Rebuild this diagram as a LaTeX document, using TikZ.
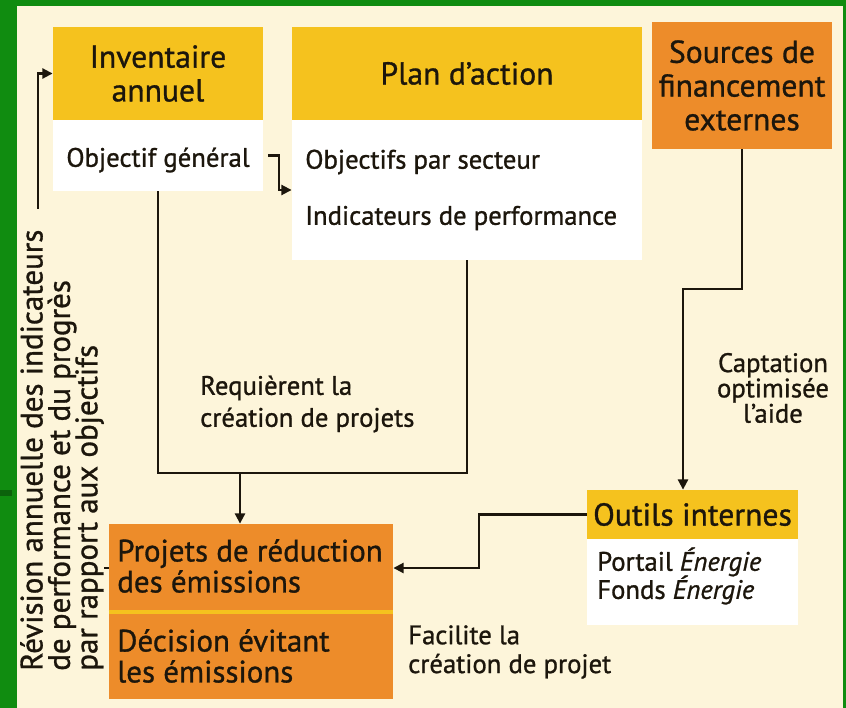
\documentclass[tikz,border=0pt]{standalone}
\usepackage{fontspec}
\setmainfont{PT Sans}[UprightFeatures={FakeBold=1.0},ItalicFeatures={FakeBold=1.0}]
\usetikzlibrary{arrows.meta}

\definecolor{frame}{RGB}{16,140,16}
\definecolor{cream}{RGB}{253,245,218}
\definecolor{yellowhd}{RGB}{245,194,30}
\definecolor{orangebx}{RGB}{237,140,42}
\definecolor{ink}{RGB}{28,22,12}

\tikzset{
  head/.style={fill=yellowhd,inner sep=0pt,align=center,text=ink,font=\fontsize{22.5}{24}\selectfont},
  body/.style={fill=white,inner sep=0pt},
  orbox/.style={fill=orangebx,inner sep=0pt},
  txt/.style={font=\fontsize{19}{20}\selectfont,text=ink,inner sep=0pt},
  link/.style={line width=1.9pt,ink,-{Triangle[length=0.26cm,width=0.25cm]}},
  plain/.style={line width=1.9pt,ink}
}

\begin{document}
\begin{tikzpicture}[x=0.025cm,y=-0.025cm]
\lineskiplimit=-30pt
% frame and background
\fill[frame] (0,0) rectangle (846,708);
\fill[frame!70!black] (0,490) rectangle (12,496);
\fill[cream] (17,6) rectangle (843,708);
\useasboundingbox (0,0) rectangle (846,708);

% Inventaire annuel
\node[head,minimum width=5.25cm,minimum height=2.325cm] (invhead) at (158,73.5) {Inventaire\\annuel};
\node[body,minimum width=5.25cm,minimum height=1.775cm] (invbody) at (158,155.5) {};
\node[txt] (objgen) at (158,160) {Objectif général};

% Plan d'action
\node[head,minimum width=8.75cm,minimum height=2.325cm] (planhead) at (467,73.5) {Plan d'action};
\node[body,minimum width=8.75cm,minimum height=3.5cm] (planbody) at (467,190) {};
\node[txt,anchor=west] (objsect) at (305,162) {Objectifs par secteur};
\node[txt,anchor=west] (indperf) at (305,218) {Indicateurs de performance};

% Sources de financement externes
\node[head,fill=orangebx,minimum width=4.5cm,minimum height=3.175cm] (srchead) at (742,85.5) {Sources de\\financement\\externes};

% Outils internes
\node[head,minimum width=5.275cm,minimum height=1.225cm] (outhead) at (692.5,514.5) {Outils internes};
\node[body,minimum width=5.275cm,minimum height=2.15cm] (outbody) at (692.5,582) {};
\node[txt,align=left,anchor=west] (enertxt) at (597,576) {Portail \textit{Énergie}\\Fonds \textit{Énergie}};

% Projets
\node[orbox,minimum width=7.1cm,minimum height=2.2cm] (projtop) at (251,568) {};
\node[orbox,minimum width=7.1cm,minimum height=2.175cm] (projbot) at (251,655.5) {};
\draw[yellowhd,line width=3pt] (projtop.south west) -- (projtop.south east);
\node[txt,align=left,anchor=west,font=\fontsize{22}{22}\selectfont] (projtxt) at (117,566) {Projets de réduction\\des émissions};
\node[txt,align=left,anchor=west,font=\fontsize{22}{22}\selectfont] (decitxt) at (117,656) {Décision évitant\\les émissions};

% free labels
\node[txt,align=left,anchor=west,font=\fontsize{19}{22.7}\selectfont] (reqproj) at (200,404) {Requièrent la\\création de projets};
\node[txt,align=center,font=\fontsize{19}{18}\selectfont] (captaide) at (773,388) {Captation\\optimisée\\l'aide};
\node[txt,align=left,anchor=west,font=\fontsize{19}{20.5}\selectfont] (facproj) at (408,652) {Facilite la\\création de projet};
\node[txt,rotate=90,align=left,anchor=west,font=\fontsize{22}{19.5}\selectfont] (revision) at (62,671)
  {Révision annuelle des indicateurs\\de performance et du progrès\\par rapport aux objectifs};

% connectors
\coordinate (join) at (240,473);
\coordinate (bend1) at (683,289);
\coordinate (bend2) at (479,540);
\coordinate (revup) at (38,209);

\draw[link] ([xshift=0.12cm]invbody.east) -- ++(11,0) |- (planbody.west);
\draw[plain] (invbody.south) |- (join -| planbody.south) -- (planbody.south);
\draw[link] (join) -- (join |- projtop.north);
\draw[link] (srchead.south) |- (bend1) -- (bend1 |- outhead.north);
\draw[link] (outhead.west) -| (bend2) |- (projtop.east);
\draw[plain] (projtop.west) -- (projtop.west -| revision.south);
\draw[link] (revup) |- (invhead.west);
\end{tikzpicture}
\end{document}
